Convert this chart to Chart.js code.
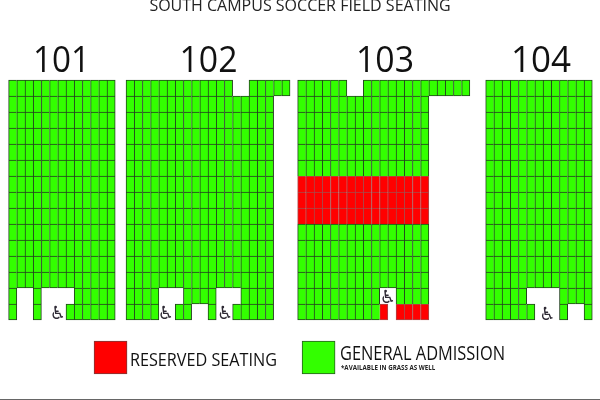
<!DOCTYPE html>
<html><head><meta charset="utf-8">
<style>html,body{margin:0;padding:0;background:#fff}canvas{display:block}</style>
<script src="https://cdn.jsdelivr.net/npm/chart.js@4"></script></head>
<body><canvas id="c" width="600" height="400"></canvas>
<script>
// G = general admission, R = reserved, . = no seat
const sectionNames = ['101','102','103','104'];
const sectionStarts = [1.05, 15.37, 36.3, 59.23];
const section101 = [
'GGGGGGGGGGGGG','GGGGGGGGGGGGG','GGGGGGGGGGGGG','GGGGGGGGGGGGG','GGGGGGGGGGGGG',
'GGGGGGGGGGGGG','GGGGGGGGGGGGG','GGGGGGGGGGGGG','GGGGGGGGGGGGG','GGGGGGGGGGGGG',
'GGGGGGGGGGGGG','GGGGGGGGGGGGG','GGGGGGGGGGGGG','G..G....GGGGG','G..G...GGGGGG'];
const section102 = [
'GGGGGGGGGGGGG..GGGGG','GGGGGGGGGGGGGGGGGG','GGGGGGGGGGGGGGGGGG','GGGGGGGGGGGGGGGGGG','GGGGGGGGGGGGGGGGGG',
'GGGGGGGGGGGGGGGGGG','GGGGGGGGGGGGGGGGGG','GGGGGGGGGGGGGGGGGG','GGGGGGGGGGGGGGGGGG','GGGGGGGGGGGGGGGGGG',
'GGGGGGGGGGGGGGGGGG','GGGGGGGGGGGGGGGGGG','GGGGGGGGGGGGGGGGGG','GGGG...GGGG...GGGG','GGGG..GG..G..GGGGG'];
const section103 = [
'GGGGGG..GGGGGGGGGGGGG','GGGGGGGGGGGGGGGG','GGGGGGGGGGGGGGGG','GGGGGGGGGGGGGGGG','GGGGGGGGGGGGGGGG',
'GGGGGGGGGGGGGGGG','RRRRRRRRRRRRRRRR','RRRRRRRRRRRRRRRR','RRRRRRRRRRRRRRRR','GGGGGGGGGGGGGGGG',
'GGGGGGGGGGGGGGGG','GGGGGGGGGGGGGGGG','GGGGGGGGGGGGGGGG','GGGGGGGGGG..GGGG','GGGGGGGGGGR.RRRR'];
const section104 = [
'GGGGGGGGGGGGG','GGGGGGGGGGGGG','GGGGGGGGGGGGG','GGGGGGGGGGGGG','GGGGGGGGGGGGG',
'GGGGGGGGGGGGG','GGGGGGGGGGGGG','GGGGGGGGGGGGG','GGGGGGGGGGGGG','GGGGGGGGGGGGG',
'GGGGGGGGGGGGG','GGGGGGGGGGGGG','GGGGGGGGGGGGG','GGGGG....GGGG','GGGGGG...G..G'];
const sections = [section101, section102, section103, section104];
const legendLabels = ['RESERVED SEATING','GENERAL ADMISSION','*AVAILABLE IN GRASS AS WELL'];
const chartTitle = 'SOUTH CAMPUS SOCCER FIELD SEATING';

const GREEN='#33ff00', RED='#ff0000';
const cells = {G:[], R:[]};
sections.forEach((rows,s)=>rows.forEach((row,r)=>[...row].forEach((ch,c)=>{
  if(!cells[ch]) return;
  const below = rows[r+1] ? rows[r+1][c] : undefined;
  cells[ch].push({x:sectionStarts[s]+c+0.5, y:[r,r+1],
    openRight: !row[c+1] || row[c+1]==='.', openBottom: !below || below==='.'});
})));
const cellBorder = ctx => {
  const d = ctx.raw || {};
  return {top:1,left:1,right:d.openRight?1:0,bottom:d.openBottom?1:0};
};

const wheel = 'bold 18px "DejaVu Sans"', wheelInk = '#2f2a35';
const texts = [
 {t:chartTitle,x:300,y:11,f:'16px "Open Sans"',a:'center',c:'#222',w:306},
 {t:sectionNames[0],x:61.5,y:72,f:'37px "Open Sans"',a:'center',c:'#111',w:57},
 {t:sectionNames[1],x:208.5,y:72,f:'37px "Open Sans"',a:'center',c:'#111',w:58},
 {t:sectionNames[2],x:385,y:72,f:'37px "Open Sans"',a:'center',c:'#111',w:58},
 {t:sectionNames[3],x:541,y:72,f:'37px "Open Sans"',a:'center',c:'#111',w:60},
 {t:legendLabels[0],x:130,y:366,f:'17.8px "Open Sans"',a:'left',c:'#111',w:147},
 {t:legendLabels[1],x:340,y:360,f:'19.5px "Open Sans"',a:'left',c:'#111',w:165},
 {t:legendLabels[2],x:341,y:369.5,f:'bold 6.2px "Open Sans"',a:'left',c:'#222',w:96},
 {t:'\u267F',x:57.7,y:318.5,f:wheel,a:'center',c:wheelInk},
 {t:'\u267F',x:165.7,y:318.5,f:wheel,a:'center',c:wheelInk},
 {t:'\u267F',x:225,y:318.5,f:wheel,a:'center',c:wheelInk},
 {t:'\u267F',x:387.7,y:302.5,f:wheel,a:'center',c:wheelInk},
 {t:'\u267F',x:547.3,y:319.5,f:wheel,a:'center',c:wheelInk}
];
const textPlugin = {id:'texts', afterDraw(ch){
  const g=ch.ctx; g.save();
  texts.forEach(o=>{g.font=o.f;g.textAlign=o.a;g.textBaseline='alphabetic';g.fillStyle=o.c;
    if(o.w) g.fillText(o.t,o.x,o.y,o.w); else g.fillText(o.t,o.x,o.y);});
  g.fillStyle='#666'; g.fillRect(0,399,600,1);
  g.restore();
}};

new Chart(document.getElementById('c'),{
  type:'bar',
  data:{datasets:[
    {label:'General admission',data:cells.G,backgroundColor:GREEN,borderColor:'#24421f',borderWidth:cellBorder,borderSkipped:false,barThickness:8.2,grouped:false},
    {label:'Reserved seating',data:cells.R,backgroundColor:RED,borderColor:'#a84a4a',borderWidth:cellBorder,borderSkipped:false,barThickness:8.2,grouped:false},
    {label:'Reserved key',data:[{x:13.48,y:[16.31,18.37]}],backgroundColor:RED,borderColor:'#7a3a3a',borderWidth:1,borderSkipped:false,barThickness:33,grouped:false},
    {label:'General key',data:[{x:38.85,y:[16.31,18.37]}],backgroundColor:GREEN,borderColor:'#2a5a22',borderWidth:1,borderSkipped:false,barThickness:33,grouped:false}
  ]},
  options:{
    responsive:false, animation:false, devicePixelRatio:1,
    layout:{padding:0},
    plugins:{legend:{display:false},tooltip:{enabled:false},title:{display:false}},
    scales:{
      x:{type:'linear',display:false,min:0,max:600/8.2,offset:false},
      y:{type:'linear',display:false,min:-5,max:20,reverse:true}
    }
  },
  plugins:[textPlugin]
});
</script></body></html>
